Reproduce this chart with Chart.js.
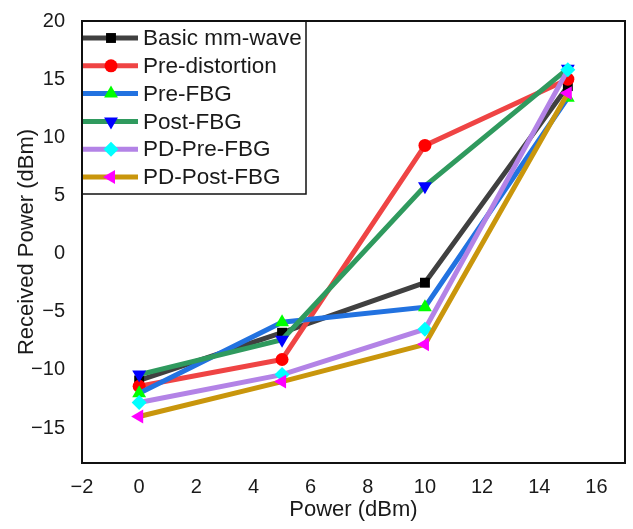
<!DOCTYPE html>
<html>
<head>
<meta charset="utf-8">
<script src="https://cdn.jsdelivr.net/npm/chart.js@4"></script>
<style>
  html, body { margin: 0; padding: 0; background: #fff; }
  #wrap { width: 633px; height: 529px; }
</style>
</head>
<body>
<div id="wrap"><canvas id="myChart" width="633" height="529"></canvas></div>
<script>
// data
var power = [0, 5, 10, 15];
var basicMmWave = [-10.9, -6.8, -2.5, 14.4];
var preDistortion = [-11.4, -9.1, 9.3, 15.0];
var preFBG = [-12.0, -5.9, -4.6, 13.4];
var postFBG = [-10.4, -7.4, 5.8, 15.9];
var pdPreFBG = [-12.8, -10.4, -6.5, 15.8];
var pdPostFBG = [-14.0, -11.0, -7.8, 13.8];
var seriesNames = ["Basic mm-wave", "Pre-distortion", "Pre-FBG", "Post-FBG", "PD-Pre-FBG", "PD-Post-FBG"];
var xTicks = [-2, 0, 2, 4, 6, 8, 10, 12, 14, 16];
var yTicks = [-15, -10, -5, 0, 5, 10, 15, 20];

var FONT = "'Liberation Sans', Arial, sans-serif";

function pts(vals) {
    return vals.map(function (v, i) { return { x: power[i], y: v } })
}

function series(i, vals, line, marker, style, rot, r) {
    return {
        label: seriesNames[i],
        data: pts(vals),
        borderColor: line,
        backgroundColor: marker,
        pointBackgroundColor: marker,
        pointBorderColor: marker,
        pointBorderWidth: 0,
        pointStyle: style,
        pointRotation: rot,
        pointRadius: r,
        borderWidth: 5,
        tension: 0,
        order: 10 - i, // later series on top
    }
}

var datasets = [
    series(0, basicMmWave, '#404040', '#000000', 'rect', 0, 7),
    series(1, preDistortion, '#ef4444', '#ff0000', 'circle', 0, 6.5),
    series(2, preFBG, '#2272e0', '#00ff00', 'triangle', 0, 8),
    series(3, postFBG, '#2f9a5e', '#0000ff', 'triangle', 180, 8),
    series(4, pdPreFBG, '#b383e6', '#00ffff', 'rectRot', 0, 7.5),
    series(5, pdPostFBG, '#c9960c', '#ff00ff', 'triangle', -90, 8),
]

// frame + legend drawn inside the plot area
var framePlugin = {
    id: 'frame',
    afterDraw: function (chart) {
        var ctx = chart.ctx, a = chart.chartArea;
        ctx.save();
        ctx.lineWidth = 2;
        ctx.strokeStyle = '#111';
        ctx.strokeRect(a.left, a.top, a.right - a.left, a.bottom - a.top);

        // legend
        var bx = a.left, by = a.top, bw = 224, bh = 173;
        ctx.lineWidth = 1.5;
        ctx.strokeRect(bx, by, bw, bh);
        ctx.font = '22.5px ' + FONT;
        ctx.textBaseline = 'middle';
        datasets.forEach(function (ds, i) {
            var y = by + 17 + i * 27.8;
            ctx.beginPath();
            ctx.lineWidth = 5;
            ctx.strokeStyle = ds.borderColor;
            ctx.moveTo(bx + 1, y);
            ctx.lineTo(bx + 56, y);
            ctx.stroke();
            ctx.fillStyle = ds.pointBackgroundColor;
            Chart.helpers.drawPoint(ctx, { pointStyle: ds.pointStyle, rotation: ds.pointRotation, radius: ds.pointRadius, borderWidth: 0 }, bx + 29, y);
            ctx.fillStyle = '#1a1a1a';
            ctx.fillText(ds.label, bx + 61, y + 1);
        });
        ctx.restore();
    }
}

function minus(v) {
    return String(v).replace('-', '\u2212')
}

var ctx = document.getElementById('myChart').getContext('2d');
var chart = new Chart(ctx, {
    type: 'line',
    data: { datasets: datasets },
    options: {
        responsive: false,
        animation: false,
        layout: { padding: { top: 10, right: 7, left: 0, bottom: 0 } },
        plugins: { legend: { display: false }, tooltip: { enabled: false } },
        scales: {
            x: {
                type: 'linear',
                min: -2,
                max: 17,
                grid: { display: false },
                border: { display: false },
                afterBuildTicks: function (s) {
                    s.ticks = xTicks.map(function (v) { return { value: v } })
                },
                afterFit: function (s) { s.height = 66 },
                ticks: {
                    padding: 4,
                    maxRotation: 0,
                    color: '#1a1a1a',
                    font: { family: FONT, size: 20 },
                    callback: function (v) { return minus(v) }
                },
                title: {
                    display: true,
                    text: 'Power (dBm)',
                    color: '#1a1a1a',
                    font: { family: FONT, size: 22 },
                    padding: { top: 0, bottom: 6 }
                }
            },
            y: {
                min: -18,
                max: 20,
                grid: { display: false },
                border: { display: false },
                afterBuildTicks: function (s) {
                    s.ticks = yTicks.map(function (v) { return { value: v } })
                },
                afterFit: function (s) { s.width = 82 },
                ticks: {
                    padding: 9,
                    color: '#1a1a1a',
                    font: { family: FONT, size: 20 },
                    callback: function (v) { return minus(v) }
                },
                title: {
                    display: true,
                    text: 'Received Power (dBm)',
                    color: '#1a1a1a',
                    font: { family: FONT, size: 22 },
                    padding: { top: 14, bottom: 0 }
                }
            }
        }
    },
    plugins: [framePlugin]
});
</script>
</body>
</html>
